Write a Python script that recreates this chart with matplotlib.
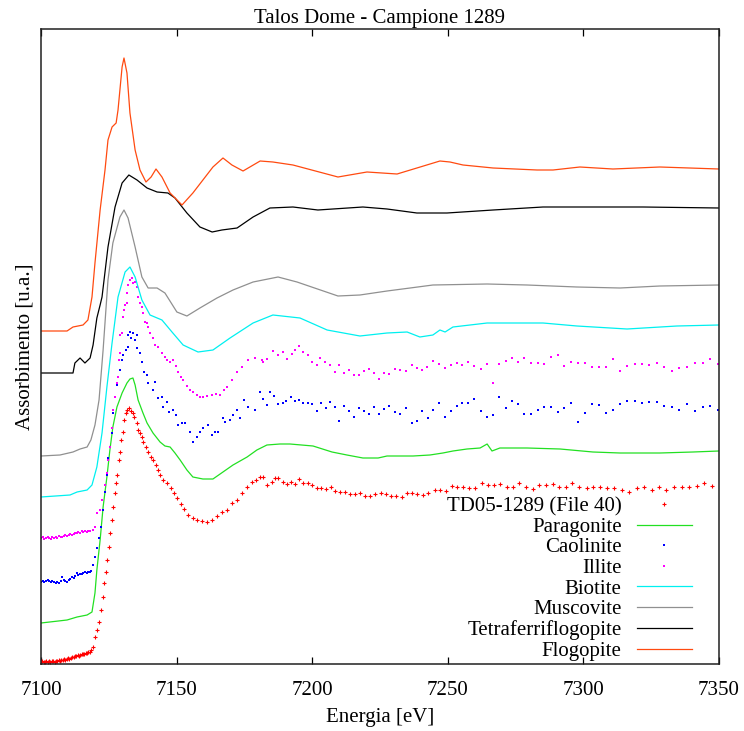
import matplotlib
matplotlib.use("Agg")
import matplotlib.pyplot as plt

plt.rcParams['font.family'] = ['Liberation Serif', 'DejaVu Serif']

# ---------------- data (energy in eV, absorption in arbitrary units, stacked) ----------------
flogopite_e = [7100, 7109.6, 7111.8, 7115.5, 7117.3, 7118.8, 7119.9, 7121.8, 7123.6, 7124.7,
               7126.2, 7127.7, 7128.4, 7129.9, 7130.6, 7131.7, 7132.8, 7134.7, 7136.5, 7138.7,
               7140.6, 7142.4, 7144.6, 7147.6, 7152.0, 7156.0, 7159.7, 7163.4, 7167.1, 7170.4,
               7174.5, 7180.8, 7185.5, 7192.9, 7209.5, 7220.2, 7231.3, 7238.6, 7247.1, 7250.8,
               7255.6, 7266.7, 7282.9, 7288.8, 7298.7, 7310.9, 7328.2, 7350]
flogopite_y = [3.33, 3.33, 3.37, 3.39, 3.44, 3.67, 4.01, 4.54, 4.94, 5.24,
               5.37, 5.41, 5.54, 5.97, 6.06, 5.91, 5.51, 5.14, 4.94, 4.82,
               4.87, 4.95, 4.87, 4.71, 4.59, 4.71, 4.84, 4.97, 5.06, 4.99,
               4.93, 5.03, 5.02, 4.99, 4.87, 4.92, 4.90, 4.96, 5.03, 5.02,
               4.99, 4.96, 4.94, 4.94, 4.97, 4.95, 4.97, 4.95]

tetra_e = [7100, 7111.8, 7112.5, 7114.4, 7116.2, 7118.1, 7119.2, 7120.6, 7121.8, 7122.5,
           7124.7, 7127.3, 7129.9, 7132.4, 7135.4, 7139.1, 7142.8, 7146.8, 7149.4, 7153.8,
           7158.6, 7163.1, 7166.7, 7172.3, 7178.2, 7184.4, 7192.9, 7202.1, 7218.7, 7227.6,
           7238.6, 7249.7, 7266.7, 7285.1, 7297.6, 7322.0, 7350]
tetra_y = [2.91, 2.91, 3.01, 3.06, 3.01, 3.06, 3.19, 3.46, 3.59, 3.67,
           4.17, 4.57, 4.81, 4.89, 4.84, 4.76, 4.72, 4.71, 4.66, 4.51,
           4.37, 4.32, 4.34, 4.36, 4.47, 4.56, 4.57, 4.54, 4.57, 4.55,
           4.51, 4.51, 4.54, 4.57, 4.57, 4.57, 4.56]

musc_e = [7100, 7107.0, 7111.8, 7114.4, 7117.0, 7118.4, 7119.9, 7121.4, 7122.9, 7124.7,
          7126.5, 7129.1, 7130.6, 7132.1, 7134.7, 7137.2, 7139.5, 7142.8, 7145.7, 7150.1,
          7153.8, 7158.6, 7164.9, 7170.8, 7178.2, 7187.4, 7194.4, 7209.5, 7217.6, 7227.6,
          7236.1, 7244.5, 7264.5, 7279.2, 7297.6, 7313.5, 7328.2, 7350]
musc_y = [2.08, 2.09, 2.12, 2.15, 2.17, 2.24, 2.39, 2.64, 3.14, 3.84,
          4.21, 4.47, 4.54, 4.46, 4.17, 3.87, 3.76, 3.76, 3.71, 3.52,
          3.48, 3.56, 3.66, 3.74, 3.82, 3.87, 3.82, 3.68, 3.69, 3.73,
          3.76, 3.79, 3.80, 3.79, 3.77, 3.76, 3.78, 3.79]

biot_e = [7100, 7110.7, 7113.3, 7117.0, 7118.8, 7120.6, 7122.5, 7124.3, 7126.2, 7128.4,
          7131.0, 7132.8, 7134.7, 7137.2, 7140.2, 7144.6, 7148.3, 7152.4, 7157.9, 7163.4,
          7169.7, 7178.2, 7185.5, 7195.5, 7205.5, 7217.6, 7227.6, 7235.0, 7239.7, 7244.5,
          7247.1, 7249.0, 7251.9, 7264.5, 7285.1, 7297.6, 7316.1, 7334.5, 7350]
biot_y = [1.67, 1.69, 1.72, 1.74, 1.79, 1.97, 2.31, 2.77, 3.21, 3.67,
          3.92, 3.97, 3.87, 3.64, 3.49, 3.44, 3.32, 3.19, 3.12, 3.14,
          3.26, 3.41, 3.49, 3.46, 3.34, 3.28, 3.31, 3.32, 3.27, 3.29,
          3.34, 3.32, 3.37, 3.41, 3.41, 3.38, 3.35, 3.38, 3.39]

para_e = [7100, 7109.6, 7113.3, 7117.0, 7118.8, 7119.9, 7120.6, 7121.8, 7122.9, 7124.3,
          7125.4, 7126.5, 7128.0, 7129.9, 7131.7, 7132.8, 7133.9, 7134.7, 7135.8, 7137.6,
          7139.1, 7141.3, 7143.9, 7145.7, 7147.6, 7149.4, 7151.3, 7153.8, 7156.0, 7159.7,
          7163.4, 7167.1, 7170.8, 7176.0, 7179.6, 7183.3, 7188.1, 7191.8, 7200.3, 7207.3,
          7212.8, 7218.7, 7224.3, 7227.6, 7237.2, 7243.4, 7248.2, 7251.9, 7257.1, 7261.9,
          7264.5, 7266.3, 7269.2, 7279.2, 7291.4, 7303.5, 7313.5, 7328.2, 7340.4, 7350]
para_y = [0.41, 0.44, 0.47, 0.49, 0.52, 0.71, 0.94, 1.24, 1.57, 1.87,
          2.14, 2.37, 2.57, 2.71, 2.81, 2.85, 2.86, 2.79, 2.64, 2.51,
          2.41, 2.31, 2.22, 2.18, 2.17, 2.11, 2.04, 1.94, 1.87, 1.85,
          1.85, 1.92, 1.99, 2.07, 2.14, 2.19, 2.20, 2.20, 2.18, 2.12,
          2.09, 2.06, 2.06, 2.08, 2.08, 2.09, 2.11, 2.13, 2.15, 2.16,
          2.20, 2.13, 2.16, 2.16, 2.15, 2.12, 2.11, 2.11, 2.12, 2.13]

illite_e = [7100.0, 7100.6, 7101.2, 7101.8, 7102.4, 7103.0, 7103.6, 7104.2, 7104.8, 7105.4,
            7106.0, 7106.6, 7107.2, 7107.8, 7108.4, 7109.0, 7109.6, 7110.2, 7110.8, 7111.4,
            7112.0, 7112.6, 7113.2, 7113.8, 7114.4, 7115.0, 7115.6, 7116.2, 7116.8, 7117.4,
            7118.0, 7119.2, 7119.9, 7120.6, 7121.8, 7122.5, 7123.6, 7124.3, 7124.7, 7125.4,
            7126.2, 7126.5, 7127.3, 7128.0, 7128.4, 7128.8, 7129.1, 7129.2, 7129.9, 7130.2,
            7130.6, 7131.0, 7131.7, 7131.8, 7132.1, 7132.8, 7133.6, 7133.9, 7134.7, 7135.4,
            7135.8, 7136.5, 7137.2, 7137.6, 7138.3, 7139.1, 7139.5, 7140.2, 7141.3, 7142.0,
            7143.1, 7144.6, 7145.7, 7146.5, 7147.6, 7148.7, 7149.8, 7150.5, 7151.6, 7152.4,
            7153.8, 7154.9, 7156.0, 7157.5, 7158.6, 7159.7, 7161.2, 7163.1, 7164.5, 7166.0,
            7167.5, 7168.6, 7170.4, 7172.3, 7174.1, 7176.3, 7178.9, 7181.5, 7181.9, 7183.3,
            7185.5, 7187.4, 7189.2, 7190.7, 7192.6, 7193.7, 7195.1, 7196.6, 7198.4, 7199.9,
            7201.8, 7202.9, 7204.7, 7206.6, 7208.4, 7209.9, 7211.7, 7213.6, 7215.4, 7217.3,
            7219.1, 7220.9, 7222.8, 7224.7, 7226.5, 7228.3, 7230.5, 7232.4, 7234.6, 7236.8,
            7238.6, 7240.5, 7242.3, 7244.5, 7246.8, 7249.0, 7251.2, 7253.4, 7255.2, 7257.4,
            7259.7, 7262.2, 7264.5, 7266.7, 7268.9, 7271.5, 7273.7, 7275.9, 7278.1, 7280.7,
            7283.3, 7285.5, 7288.1, 7290.6, 7292.8, 7295.4, 7298.0, 7300.6, 7303.2, 7305.8,
            7308.3, 7310.9, 7313.5, 7316.1, 7319.0, 7321.6, 7324.2, 7327.1, 7329.7, 7332.7,
            7335.2, 7338.2, 7341.1, 7344.1, 7346.7, 7349.6]
illite_y = [1.26, 1.27, 1.25, 1.26, 1.27, 1.26, 1.25, 1.27, 1.26, 1.27,
            1.26, 1.28, 1.27, 1.27, 1.28, 1.29, 1.28, 1.29, 1.30, 1.29,
            1.30, 1.31, 1.31, 1.32, 1.31, 1.33, 1.32, 1.33, 1.32, 1.33,
            1.33, 1.34, 1.37, 1.51, 1.54, 1.64, 1.79, 1.91, 2.04, 2.17,
            2.36, 2.54, 2.67, 2.81, 2.87, 3.04, 3.11, 3.29, 3.31, 3.47,
            3.54, 3.59, 3.71, 3.61, 3.79, 3.84, 3.86, 3.81, 3.82, 3.77,
            3.67, 3.61, 3.57, 3.51, 3.42, 3.41, 3.37, 3.31, 3.26, 3.19,
            3.17, 3.11, 3.07, 3.04, 3.02, 3.04, 2.98, 2.92, 2.87, 2.84,
            2.78, 2.74, 2.72, 2.69, 2.67, 2.67, 2.68, 2.69, 2.70, 2.69,
            2.74, 2.77, 2.84, 2.92, 2.97, 3.04, 3.06, 3.04, 3.02, 3.05,
            3.13, 3.09, 3.12, 3.05, 3.10, 3.14, 3.18, 3.12, 3.09, 3.02,
            2.99, 3.06, 3.02, 2.99, 2.92, 2.99, 2.91, 2.94, 2.89, 2.89,
            2.93, 2.95, 2.91, 2.85, 2.91, 2.90, 2.95, 2.94, 2.93, 2.99,
            2.96, 2.94, 2.97, 3.03, 3.00, 2.96, 2.99, 3.01, 2.99, 3.02,
            2.98, 2.95, 3.00, 2.81, 3.00, 3.03, 3.06, 3.02, 3.06, 3.01,
            3.01, 3.00, 3.07, 3.09, 2.98, 3.02, 3.01, 3.01, 2.97, 2.97,
            2.97, 3.05, 2.93, 2.98, 3.00, 3.00, 2.99, 3.01, 2.97, 2.93,
            2.96, 2.97, 3.01, 3.01, 3.05, 3.00]

caol_e = [7100.0, 7100.6, 7101.2, 7101.8, 7102.4, 7103.0, 7103.6, 7104.2, 7104.8, 7105.4,
          7106.0, 7106.6, 7107.2, 7107.8, 7108.4, 7109.0, 7109.6, 7110.2, 7110.8, 7111.4,
          7112.0, 7112.6, 7113.2, 7113.8, 7114.4, 7115.0, 7115.6, 7116.2, 7116.8, 7117.4,
          7118.0, 7118.6, 7119.2, 7119.9, 7120.6, 7121.4, 7122.1, 7122.9, 7123.6, 7124.3,
          7124.7, 7125.4, 7126.2, 7126.5, 7127.3, 7128.0, 7128.4, 7129.1, 7129.9, 7130.2,
          7131.3, 7132.1, 7132.2, 7132.8, 7133.2, 7133.9, 7134.7, 7135.4, 7135.5, 7136.5,
          7137.2, 7138.0, 7139.1, 7139.5, 7141.3, 7142.0, 7143.1, 7144.6, 7145.0, 7146.5,
          7147.2, 7148.7, 7149.8, 7150.5, 7152.0, 7153.1, 7154.9, 7156.0, 7157.5, 7158.6,
          7159.7, 7161.6, 7163.1, 7164.2, 7165.3, 7167.1, 7167.8, 7169.7, 7170.8, 7172.3,
          7173.4, 7174.9, 7176.3, 7178.9, 7180.8, 7181.9, 7183.3, 7184.4, 7185.9, 7187.4,
          7189.2, 7190.3, 7192.2, 7193.7, 7195.1, 7196.6, 7198.4, 7199.9, 7201.8, 7203.2,
          7205.1, 7206.6, 7208.4, 7209.9, 7211.7, 7213.6, 7215.4, 7217.3, 7219.1, 7220.9,
          7222.8, 7224.7, 7226.5, 7228.3, 7230.5, 7232.4, 7234.6, 7236.8, 7238.6, 7240.5,
          7242.7, 7244.5, 7246.8, 7249.0, 7251.2, 7253.4, 7255.2, 7257.4, 7259.7, 7262.2,
          7264.5, 7266.7, 7268.9, 7271.5, 7273.7, 7275.9, 7278.1, 7280.7, 7283.3, 7285.5,
          7288.1, 7290.6, 7292.8, 7295.4, 7298.0, 7300.6, 7303.2, 7305.8, 7308.3, 7310.9,
          7313.5, 7316.1, 7319.0, 7321.6, 7324.2, 7327.1, 7329.7, 7332.7, 7335.2, 7338.2,
          7341.1, 7344.1, 7346.7, 7349.6]
caol_y = [0.82, 0.83, 0.82, 0.83, 0.84, 0.83, 0.82, 0.83, 0.82, 0.81,
          0.82, 0.81, 0.83, 0.87, 0.84, 0.83, 0.82, 0.84, 0.85, 0.87,
          0.86, 0.88, 0.91, 0.89, 0.90, 0.90, 0.91, 0.92, 0.91, 0.92,
          0.92, 0.93, 0.99, 1.07, 1.16, 1.26, 1.37, 1.54, 1.72, 1.89,
          2.06, 2.17, 2.31, 2.51, 2.67, 2.79, 2.87, 2.94, 3.04, 3.09,
          3.14, 3.17, 3.29, 3.32, 3.26, 3.31, 3.24, 3.16, 3.29, 3.11,
          3.02, 2.92, 2.89, 2.81, 2.74, 2.82, 2.66, 2.67, 2.57, 2.62,
          2.52, 2.54, 2.49, 2.39, 2.41, 2.41, 2.32, 2.22, 2.27, 2.32,
          2.36, 2.39, 2.29, 2.32, 2.32, 2.46, 2.42, 2.44, 2.49, 2.54,
          2.46, 2.64, 2.57, 2.54, 2.72, 2.65, 2.59, 2.72, 2.68, 2.60,
          2.61, 2.63, 2.67, 2.63, 2.64, 2.61, 2.61, 2.60, 2.53, 2.61,
          2.56, 2.62, 2.57, 2.43, 2.58, 2.53, 2.47, 2.56, 2.53, 2.50,
          2.57, 2.50, 2.55, 2.58, 2.52, 2.50, 2.56, 2.41, 2.43, 2.53,
          2.46, 2.54, 2.61, 2.47, 2.53, 2.58, 2.61, 2.61, 2.65, 2.53,
          2.47, 2.49, 2.67, 2.56, 2.63, 2.60, 2.50, 2.50, 2.54, 2.57,
          2.57, 2.52, 2.56, 2.61, 2.42, 2.51, 2.60, 2.59, 2.51, 2.54,
          2.60, 2.63, 2.63, 2.61, 2.62, 2.62, 2.58, 2.57, 2.54, 2.60,
          2.53, 2.57, 2.58, 2.54]

sample_e = [7100.0, 7100.5, 7101.0, 7101.5, 7102.0, 7102.5, 7103.0, 7103.5, 7104.0, 7104.5,
            7105.0, 7105.5, 7106.0, 7106.5, 7107.0, 7107.5, 7108.0, 7108.5, 7109.0, 7109.5,
            7110.0, 7110.5, 7111.0, 7111.5, 7112.0, 7112.5, 7113.0, 7113.5, 7114.0, 7114.5,
            7115.0, 7115.5, 7116.0, 7116.5, 7117.0, 7117.5, 7118.0, 7118.5, 7119.2, 7119.9,
            7120.6, 7121.4, 7122.1, 7122.9, 7123.2, 7124.0, 7124.3, 7125.1, 7125.4, 7126.2,
            7126.5, 7127.3, 7127.7, 7128.0, 7128.8, 7129.1, 7129.5, 7130.2, 7130.6, 7131.3,
            7131.7, 7132.4, 7133.2, 7133.9, 7134.3, 7135.4, 7135.8, 7136.5, 7137.2, 7137.6,
            7138.7, 7139.5, 7140.6, 7141.3, 7142.4, 7143.1, 7143.9, 7145.0, 7146.5, 7147.9,
            7149.0, 7150.1, 7151.6, 7152.7, 7154.2, 7156.0, 7157.5, 7159.4, 7161.2, 7163.1,
            7164.9, 7166.7, 7168.6, 7170.4, 7172.3, 7174.1, 7176.0, 7177.8, 7179.3, 7180.8,
            7181.9, 7183.3, 7185.2, 7186.3, 7187.4, 7189.2, 7190.7, 7192.2, 7193.7, 7195.1,
            7196.6, 7198.4, 7199.9, 7201.8, 7203.2, 7205.1, 7206.9, 7208.4, 7210.3, 7212.1,
            7213.9, 7215.8, 7217.6, 7219.5, 7221.3, 7223.2, 7225.4, 7227.2, 7229.1, 7230.9,
            7233.1, 7235.0, 7236.8, 7238.6, 7240.9, 7242.7, 7245.3, 7247.1, 7249.3, 7251.5,
            7253.4, 7255.6, 7257.8, 7260.0, 7262.6, 7264.8, 7267.0, 7269.2, 7271.8, 7274.0,
            7276.3, 7278.8, 7281.4, 7283.6, 7286.2, 7288.8, 7291.0, 7293.6, 7295.8, 7298.4,
            7301.3, 7303.5, 7306.1, 7308.7, 7311.3, 7314.2, 7316.8, 7319.8, 7322.3, 7325.3,
            7327.9, 7330.5, 7333.4, 7336.4, 7338.9, 7341.9, 7344.5, 7347.4]
sample_y = [0.02, 0.03, 0.02, 0.02, 0.03, 0.02, 0.03, 0.02, 0.03, 0.03,
            0.02, 0.03, 0.03, 0.04, 0.03, 0.04, 0.04, 0.05, 0.04, 0.05,
            0.06, 0.05, 0.06, 0.07, 0.07, 0.08, 0.08, 0.09, 0.08, 0.09,
            0.10, 0.10, 0.10, 0.11, 0.11, 0.12, 0.12, 0.14, 0.17, 0.27,
            0.34, 0.42, 0.54, 0.67, 0.81, 0.92, 1.04, 1.17, 1.31, 1.44,
            1.57, 1.71, 1.81, 1.89, 2.04, 2.12, 2.24, 2.32, 2.44, 2.51,
            2.54, 2.56, 2.53, 2.51, 2.47, 2.41, 2.34, 2.31, 2.27, 2.22,
            2.17, 2.12, 2.07, 2.04, 1.99, 1.94, 1.89, 1.84, 1.81, 1.76,
            1.71, 1.66, 1.60, 1.55, 1.49, 1.46, 1.44, 1.43, 1.42, 1.44,
            1.48, 1.52, 1.54, 1.61, 1.64, 1.71, 1.77, 1.82, 1.84, 1.87,
            1.87, 1.79, 1.82, 1.86, 1.86, 1.82, 1.80, 1.82, 1.80, 1.85,
            1.81, 1.81, 1.79, 1.76, 1.76, 1.75, 1.77, 1.73, 1.72, 1.72,
            1.70, 1.70, 1.71, 1.68, 1.68, 1.70, 1.71, 1.70, 1.68, 1.68,
            1.67, 1.71, 1.71, 1.70, 1.69, 1.71, 1.74, 1.74, 1.73, 1.78,
            1.77, 1.77, 1.76, 1.76, 1.81, 1.79, 1.79, 1.80, 1.77, 1.77,
            1.81, 1.77, 1.75, 1.79, 1.79, 1.80, 1.77, 1.77, 1.81, 1.77,
            1.76, 1.77, 1.77, 1.76, 1.76, 1.74, 1.72, 1.76, 1.77, 1.74,
            1.77, 1.74, 1.77, 1.77, 1.77, 1.78, 1.81, 1.78]

# ---------------- figure ----------------
fig = plt.figure(figsize=(7.44, 7.31), dpi=100)
ax = fig.add_axes([41 / 744, 1 - 664 / 731, 678 / 744, 635 / 731])

lw = 0.9
ax.plot(sample_e, sample_y, linestyle='none', marker='+', markersize=3.2,
        markeredgewidth=0.8, color='#ff0000', label='TD05-1289 (File 40)')
ax.plot(para_e, para_y, color='#22e022', lw=lw, label='Paragonite')
ax.plot(caol_e, caol_y, linestyle='none', marker='s', markersize=2.1,
        markeredgewidth=0, color='#0000ff', label='Caolinite')
ax.plot(illite_e, illite_y, linestyle='none', marker='s', markersize=2.1,
        markeredgewidth=0, color='#ff00ff', label='Illite')
ax.plot(biot_e, biot_y, color='#00f0f0', lw=lw, label='Biotite')
ax.plot(musc_e, musc_y, color='#909090', lw=lw, label='Muscovite')
ax.plot(tetra_e, tetra_y, color='#000000', lw=lw, label='Tetraferriflogopite')
ax.plot(flogopite_e, flogopite_y, color='#ff4a10', lw=lw, label='Flogopite')

ax.set_xlim(7100, 7350)
ax.set_ylim(0, 6.35)
ax.set_xticks([7100, 7150, 7200, 7250, 7300, 7350])
ax.set_yticks([])
ax.tick_params(axis='x', direction='in', length=5, width=0.9, top=True,
               labelsize=15, pad=12)
for s in ax.spines.values():
    s.set_linewidth(1.1)
    s.set_color('#202020')

ax.set_title('Talos Dome - Campione 1289', fontsize=15, pad=4)
ax.set_xlabel('Energia [eV]', fontsize=15, labelpad=6)
ax.set_ylabel('Assorbimento [u.a.]', fontsize=15, labelpad=5)

leg = ax.legend(loc='lower right', bbox_to_anchor=(0.969, -0.005), frameon=False,
                markerfirst=False, fontsize=15, handlelength=2.65,
                handletextpad=0.72, labelspacing=0.05, borderpad=0.3,
                borderaxespad=0.0, markerscale=1.0, numpoints=1)

fig.savefig('out.png', dpi=100)
